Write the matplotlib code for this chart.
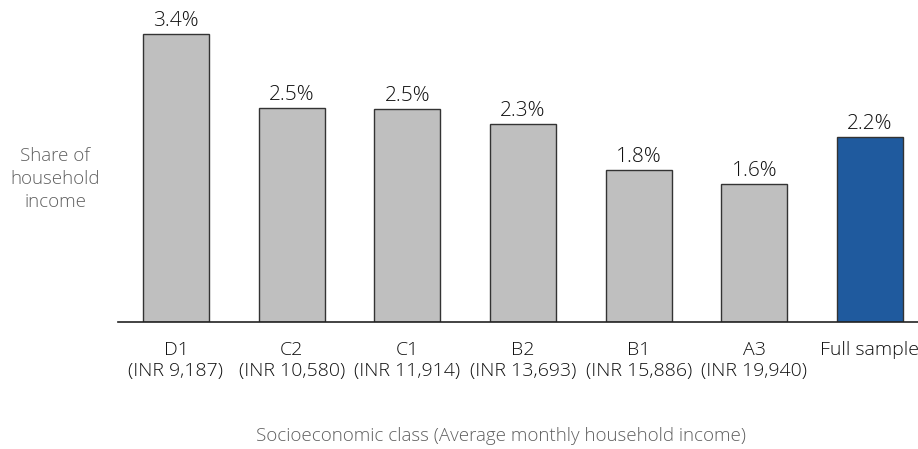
import matplotlib.pyplot as plt

classes = ['D1', 'C2', 'C1', 'B2', 'B1', 'A3', 'Full sample']
incomes = ['(INR 9,187)', '(INR 10,580)', '(INR 11,914)', '(INR 13,693)',
           '(INR 15,886)', '(INR 19,940)', '']
shares = [3.40, 2.53, 2.51, 2.34, 1.80, 1.63, 2.18]
share_labels = ['3.4%', '2.5%', '2.5%', '2.3%', '1.8%', '1.6%', '2.2%']

plt.rcParams['font.family'] = ['Open Sans', 'DejaVu Sans']
plt.rcParams['font.weight'] = 300

fig = plt.figure(figsize=(9.18, 4.49), dpi=100)
ax = fig.add_axes([118 / 918, 1 - 322 / 449, 800 / 918, 302 / 449])

colors = ['#bfbfbf'] * 6 + ['#1f5a9e']
x = list(range(len(classes)))
bars = ax.bar(x, shares, width=0.57, color=colors, edgecolor='#333333', linewidth=1)

for b, lab in zip(bars, share_labels):
    ax.text(b.get_x() + b.get_width() / 2, b.get_height() + 0.035, lab,
            ha='center', va='bottom', fontsize=15, color='#111111')

ax.set_xlim(-0.501, 6.415)
ax.set_ylim(0, 3.565)

ticklabels = [c if not i else c + '\n' + i for c, i in zip(classes, incomes)]
ax.set_xticks(x)
ax.set_xticklabels(ticklabels, fontsize=14, color='#111111', va='top', linespacing=1.17)
ax.tick_params(axis='x', length=0, pad=14)
ax.set_yticks([])
for s in ['top', 'right', 'left']:
    ax.spines[s].set_visible(False)
ax.spines['bottom'].set_linewidth(1.2)
ax.spines['bottom'].set_color('#222222')

fig.text(55 / 918, 1 - 179 / 449, 'Share of\nhousehold\nincome', ha='center', va='center',
         fontsize=13.5, color='#606060', linespacing=1.33)
fig.text(501 / 918, 1 - 441 / 449, 'Socioeconomic class (Average monthly household income)',
         ha='center', va='baseline', fontsize=13.5, color='#606060')

fig.savefig('out.png', dpi=100)
